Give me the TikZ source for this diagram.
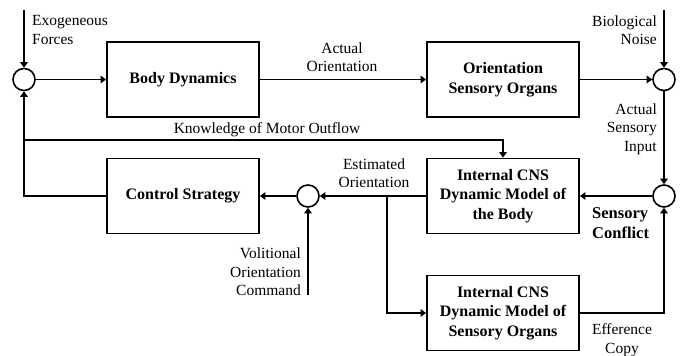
\documentclass[tikz,border=0pt]{standalone}
\usepackage{fontspec}
\setmainfont{Liberation Serif}
\usetikzlibrary{arrows.meta}

\begin{document}
\begin{tikzpicture}[x=1pt,y=-1pt,
                  block/.style={draw,line width=1.8pt,minimum width=152pt,minimum height=75pt,align=center,inner sep=0pt,font=\fontsize{16}{19.5}\selectfont\bfseries},
                  sumpt/.style={draw,circle,line width=1.6pt,minimum size=22pt,inner sep=0pt},
                  lbl/.style={inner sep=0pt,font=\fontsize{15.5}{18.5}\selectfont},
                  arr/.style={line width=1.6pt,-{Triangle[length=5.5pt,width=7.5pt]}}]
                  \useasboundingbox (0,0) rectangle (683,356);
                  \node[sumpt] (s1) at (24,79.5) {};
                  \node[block] (body) at (183,79.5) {Body Dynamics};
                  \node[block] (organs) at (503,79.5) {Orientation\\Sensory Organs};
                  \node[sumpt] (s2) at (664,79.5) {};
                  \node[block] (ctrl) at (183,196) {Control Strategy};
                  \node[sumpt] (s3) at (308,196) {};
                  \node[block] (cnsbody) at (503,196) {Internal CNS\\Dynamic Model of\\the Body};
                  \node[block] (cnsorg) at (503,313) {Internal CNS\\Dynamic Model of\\Sensory Organs};
                  \node[sumpt] (s4) at (664,196) {};
                  \coordinate (exo) at (24,10);
                  \coordinate (noise) at (664,10);
                  \coordinate (vol) at (308,295);
                  \coordinate (know) at (24,140);
                  \coordinate (branch) at (387,196);
                  \draw[arr] (exo) -- (s1);
                  \draw[arr] (s1) -- (body);
                  \draw[arr] (body) -- (organs);
                  \draw[arr] (organs) -- (s2);
                  \draw[arr] (noise) -- (s2);
                  \draw[arr] (s2) -- (s4);
                  \draw[arr] (s4) -- (cnsbody);
                  \draw[arr] (cnsbody) -- (s3);
                  \draw[arr] (s3) -- (ctrl);
                  \draw[arr] (vol) -- (s3);
                  \draw[arr] (ctrl.west) -| (s1.south);
                  \draw[arr] (know) -| (cnsbody.north);
                  \draw[arr] (branch) |- (cnsorg.west);
                  \draw[arr] (cnsorg.east) -| (s4.south);
                  \node[lbl,anchor=west,align=left] (exolbl) at (32,30) {Exogeneous\\Forces};
                  \node[lbl,anchor=east,align=right] (noiselbl) at (657,30) {Biological\\Noise};
                  \node[lbl,align=center] (actlbl) at (342,57) {Actual\\Orientation};
                  \node[lbl] (knowlbl) at (267,130) {Knowledge of Motor Outflow};
                  \node[lbl,anchor=east,align=right] (inlbl) at (657,129) {Actual\\Sensory\\Input};
                  \node[lbl,align=center] (estlbl) at (374,173) {Estimated\\Orientation};
                  \node[lbl,anchor=west,align=left,font=\fontsize{16.5}{20.5}\selectfont\bfseries] (conflbl) at (592,223) {Sensory\\Conflict};
                  \node[lbl,anchor=east,align=right] (vollbl) at (301,272) {Volitional\\Orientation\\Command};
                  \node[lbl,align=center] (efflbl) at (622,340) {Efference\\Copy};
              \end{tikzpicture}
\end{document}
